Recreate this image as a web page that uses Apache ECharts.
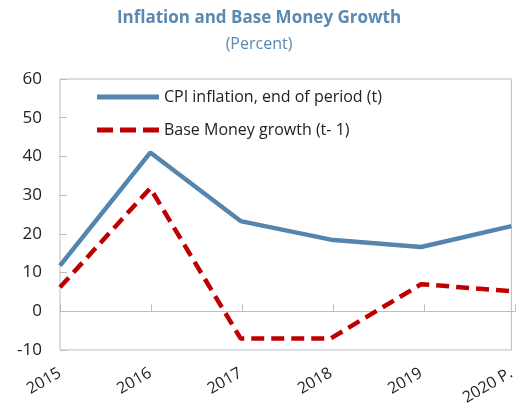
<!DOCTYPE html>
<html>
<head>
<meta charset="utf-8">
<script src="https://cdn.jsdelivr.net/npm/echarts@6/dist/echarts.min.js"></script>
<style>
    html, body { margin: 0; padding: 0; background: #fff; }
    #chart { width: 518px; height: 411px; }
</style>
</head>
<body>
<div id="chart"></div>
<script>
var years = ["2015", "2016", "2017", "2018", "2019", "2020 P."];
var cpiInflation = [11.8, 41, 23.3, 18.5, 16.6, 22];
var baseMoney = [6.2, 31.8, -7, -7, 7, 5.2];
var yTicks = [-10, 0, 10, 20, 30, 40, 50, 60];

var fontName = "Open Sans";
var yMin = yTicks[0], yMax = yTicks[yTicks.length - 1];
// legend icons drawn as paths so the dashed one shows its dashes
var solidIcon = "path://M0,0h62v5h-62z";
var dashIcon = "path://M0,0h16v5h-16zM23,0h16v5h-16zM46,0h16v5h-16z";

var myChart = echarts.init(document.getElementById("chart"));
myChart.setOption({
    animation: false,
    backgroundColor: "#fff",
    title: {
        text: "Inflation and Base Money Growth",
        subtext: "(Percent)",
        left: "center",
        top: 5,
        itemGap: 9,
        textStyle: {fontFamily: fontName, fontSize: 17, fontWeight: "bold", color: "#5a89b2"},
        subtextStyle: {fontFamily: fontName, fontSize: 16, color: "#5a89b2"}
    },
    legend: {
        orient: "vertical",
        left: 92,
        top: 84,
        itemWidth: 62,
        itemHeight: 5,
        itemGap: 17,
        textStyle: {fontFamily: fontName, fontSize: 16, color: "#222"},
        data: [
            {name: "CPI inflation, end of period (t)", icon: solidIcon},
            {name: "Base Money growth (t- 1)", icon: dashIcon}
        ]
    },
    // two grids on the same rect: one for labels, one for the zero line with ticks
    grid: [
        {left: 60, right: 3, top: 79, bottom: 61, show: true, borderColor: "#bdbdbd", borderWidth: 1},
        {left: 60, right: 3, top: 79, bottom: 61}
    ],
    xAxis: [
        {
            type: "category",
            gridIndex: 0,
            data: years,
            boundaryGap: false,
            position: "bottom",
            axisLine: {show: false, onZero: false},
            axisTick: {show: false},
            axisLabel: {rotate: 30, margin: 22, fontFamily: fontName, fontSize: 16, color: "#222", interval: 0}
        },
        {
            type: "category",
            gridIndex: 1,
            data: years,
            boundaryGap: false,
            position: "bottom",
            axisLine: {show: true, onZero: true, lineStyle: {color: "#bdbdbd", width: 1}},
            axisTick: {show: true, inside: true, length: 7, interval: 0, lineStyle: {color: "#bdbdbd"}},
            axisLabel: {show: false}
        }
    ],
    yAxis: [
        {
            type: "value",
            gridIndex: 0,
            min: yMin,
            max: yMax,
            interval: 10,
            axisLine: {show: false},
            axisTick: {show: true, inside: true, length: 7, lineStyle: {color: "#bdbdbd"}},
            splitLine: {show: false},
            axisLabel: {margin: 18, fontFamily: fontName, fontSize: 17, color: "#222"}
        },
        {
            type: "value",
            gridIndex: 1,
            min: yMin,
            max: yMax,
            interval: 10,
            show: false
        }
    ],
    series: [
        {
            name: "CPI inflation, end of period (t)",
            type: "line",
            xAxisIndex: 0,
            yAxisIndex: 0,
            data: cpiInflation,
            symbol: "none",
            lineStyle: {color: "#5585ad", width: 4.5},
            itemStyle: {color: "#5585ad"}
        },
        {
            name: "Base Money growth (t- 1)",
            type: "line",
            xAxisIndex: 0,
            yAxisIndex: 0,
            data: baseMoney,
            symbol: "none",
            lineStyle: {color: "#c00000", width: 4.5, type: [13, 7]},
            itemStyle: {color: "#c00000"}
        }
    ]
});
</script>
</body>
</html>
